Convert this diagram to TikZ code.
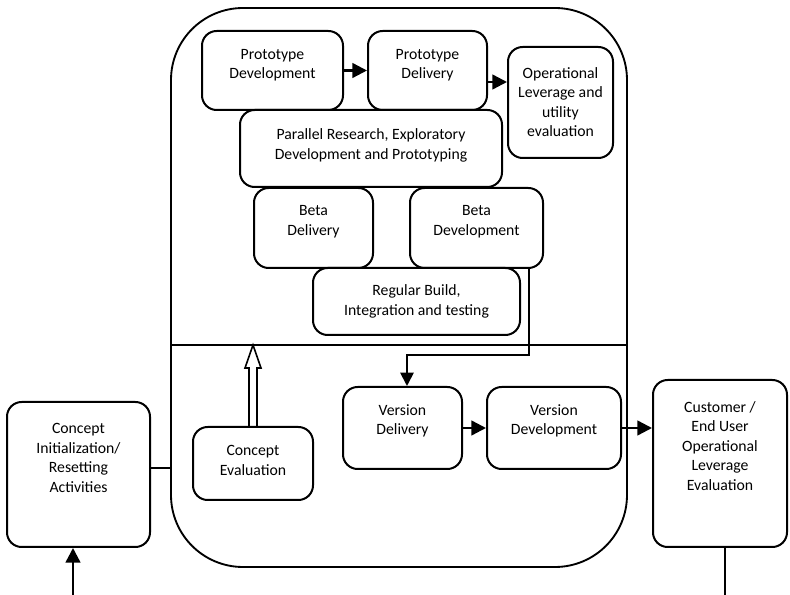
\documentclass[tikz,border=0pt]{standalone}
\usepackage{fontspec}
\setmainfont{Carlito}
\usetikzlibrary{arrows.meta,calc}
\newcommand\mybox[7]{%
  \node[box, minimum width={(#4-#2)*0.75pt}, minimum height={(#5-#3)*0.75pt}] (#1) at ({(#2+#4)/2},{(#3+#5)/2}) {};
  \node[txt] (#1t) at ({(#2+#4)/2},#6) {#7};}
\begin{document}
\begin{tikzpicture}[x=0.75pt,y=-0.75pt,
  box/.style={draw, line width=1.5pt, rounded corners=11pt, inner sep=0pt},
  txt/.style={align=center, font=\fontsize{11.8}{14.6}\selectfont, inner sep=0pt},
  arr/.style={line width=1.8pt, -{Triangle[length=11pt,width=11pt]}},
  ln/.style={line width=1.5pt}]
\useasboundingbox (0,0) rectangle (790,595);
% outer container
\node[draw, line width=1.4pt, rounded corners=54pt, inner sep=0pt,
  minimum width={(627-171)*0.75pt}, minimum height={(567-8)*0.75pt}] (outer) at ({(171+627)/2},{(8+567)/2}) {};
\draw[line width=1.2pt] (outer.west |- 0,345) coordinate (dl) -- (outer.east |- 0,345) coordinate (dr);
% boxes
\mybox{pd}{202}{31}{343}{110}{65}{Prototype\\Development}
\mybox{pdel}{368}{31}{487}{110}{65}{Prototype\\Delivery}
\mybox{ole}{508}{47}{613}{158}{102}{Operational\\Leverage and\\utility\\evaluation}
\mybox{par}{240}{110}{502}{187}{145.5}{Parallel Research, Exploratory\\Development and Prototyping}
\mybox{bdel}{254}{188}{373}{268}{221.5}{Beta\\Delivery}
\mybox{bdev}{410}{188}{543}{268}{221.5}{Beta\\Development}
\mybox{rb}{313}{268}{520}{335}{301.5}{Regular Build,\\Integration and testing}
\mybox{ci}{7}{402}{150}{547}{458}{Concept\\Initialization/\\Resetting\\Activities}
\mybox{ce}{193}{427}{313}{500}{460.5}{Concept\\Evaluation}
\mybox{vdel}{343}{387}{462}{469}{421}{Version\\Delivery}
\mybox{vdev}{487}{387}{621}{469}{421}{Version\\Development}
\mybox{cust}{653}{380}{787}{547}{446}{Customer /\\End User\\Operational\\Leverage\\Evaluation}
% connectors
\draw[arr] (pd.east) -- (pdel.west);
\draw[arr] (pdel.east |- 0,82) -- (ole.west |- 0,82);
\draw[line width=1.4pt, -{Triangle[length=10pt,width=10pt]}] (bdev.south -| 529,0) |- (407,355) -- (vdel.north -| 407,0);
\draw[line width=1.2pt] (ce.north -| 249,0) -- (249,368) -- (245,368) -- (dl -| 253,0) -- (261,368) -- (257,368) -- (ce.north -| 257,0);
\draw[ln] (ci.east |- 0,468) -- (outer.west |- 0,468);
\coordinate (bin) at (73,595);
\draw[arr] (bin) -- (ci.south -| bin);
\draw[arr] (vdel.east) -- (vdev.west);
\draw[arr] (vdev.east) -- (cust.west |- vdev.east);
\coordinate (bout) at (725,595);
\draw[ln] (cust.south -| bout) -- (bout);
\end{tikzpicture}
\end{document}
